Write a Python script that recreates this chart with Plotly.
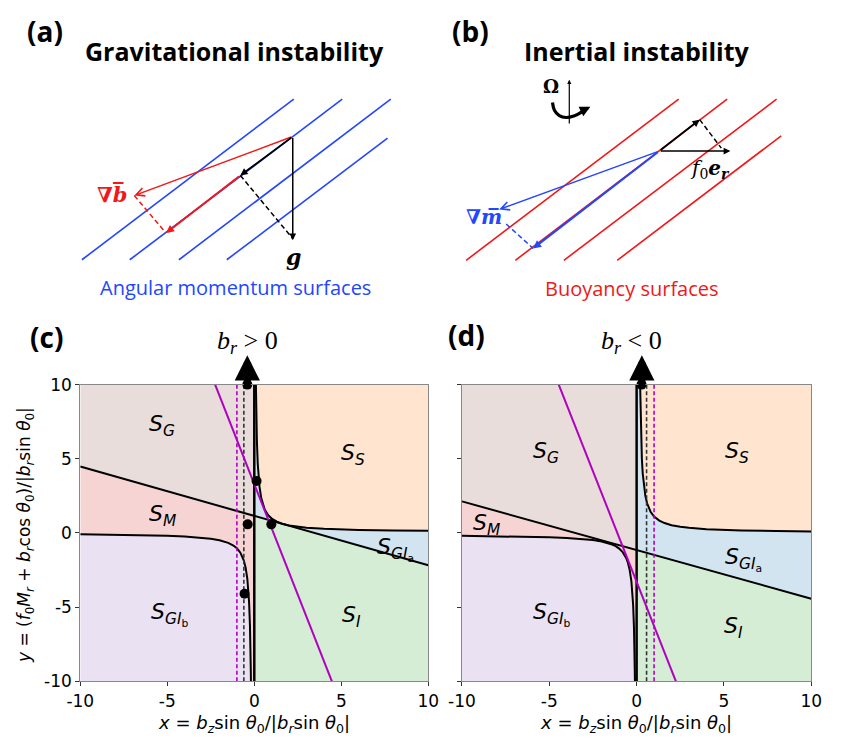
import plotly.graph_objects as go

# ---------------- data ----------------
# panel (c): b_r > 0
c_line_x = [-10, 0, 10]
c_line_y = [4.48, 1.15, -2.18]
c_hyp_up_x = [0.0925, 0.1, 0.12, 0.15, 0.2, 0.25, 0.3, 0.4, 0.5, 0.6, 0.8, 1.0, 1.3, 1.6, 2.0, 2.5, 3, 4, 5, 6, 8, 10]
c_hyp_up_y = [10.0, 9.25, 7.72, 6.18, 4.65, 3.73, 3.12, 2.35, 1.89, 1.58, 1.2, 0.97, 0.758, 0.625, 0.51, 0.418, 0.357, 0.28, 0.234, 0.203, 0.165, 0.142]
c_hyp_lo_x = [-10, -8, -6, -5, -4, -3, -2.5, -2, -1.5, -1.2, -1.0, -0.8, -0.6, -0.5, -0.4, -0.3, -0.25, -0.2, -0.193]
c_hyp_lo_y = [-0.094, -0.118, -0.158, -0.19, -0.238, -0.321, -0.388, -0.489, -0.664, -0.845, -1.033, -1.329, -1.86, -2.325, -3.1, -4.65, -6.2, -9.3, -10.0]
c_purple_x = [-2.25, 4.46]
c_purple_y = [10, -10]
c_dash_black = -0.6
c_dash_purple = -1.0
c_dots_x = [-0.4, 0.13, -0.38, 0.98, -0.56]
c_dots_y = [10, 3.5, 0.58, 0.58, -4.1]
c_arrow_x = -0.4

# panel (d): b_r < 0
d_line_x = [-10, 0, 10]
d_line_y = [2.13, -1.15, -4.43]
d_hyp_up_x = [0.2, 0.22, 0.25, 0.3, 0.35, 0.4, 0.5, 0.6, 0.8, 1.0, 1.3, 1.6, 2.0, 2.5, 3, 4, 5, 6, 8, 10]
d_hyp_up_y = [10, 8.33, 6.67, 5.0, 4.0, 3.33, 2.5, 2.0, 1.43, 1.11, 0.833, 0.667, 0.526, 0.417, 0.345, 0.256, 0.204, 0.169, 0.127, 0.101]
d_hyp_lo_x = [-10, -8, -6, -5, -4, -3, -2.5, -2, -1.7, -1.4, -1.2, -1.0, -0.8, -0.6, -0.5, -0.4, -0.3, -0.25, -0.2, -0.15, -0.12, -0.096]
d_hyp_lo_y = [-0.195, -0.219, -0.258, -0.29, -0.338, -0.417, -0.48, -0.575, -0.659, -0.779, -0.892, -1.05, -1.29, -1.68, -2.0, -2.475, -3.267, -3.9, -4.85, -6.43, -8.02, -10.0]
d_purple_x = [-4.46, 2.25]
d_purple_y = [10, -10]
d_dash_black = 0.57
d_dash_purple = 1.0
d_dots_x = [0.28]
d_dots_y = [10]
d_arrow_x = 0.3

tick_vals = [-10, -5, 0, 5, 10]
tick_text = ["-10", "-5", "0", "5", "10"]

region_names = ["S_G", "S_S", "S_M", "S_GIa", "S_GIb", "S_I"]
region_colors = {"S_G": "#e8dddb", "S_S": "#ffe5cf", "S_M": "#f7d4d4",
                 "S_GIa": "#d2e4f0", "S_GIb": "#eae1f2", "S_I": "#d5ecd5"}
region_text = {"S_G": "<i>S</i><sub><i>G</i></sub>", "S_S": "<i>S</i><sub><i>S</i></sub>",
               "S_M": "<i>S</i><sub><i>M</i></sub>", "S_GIa": "<i>S</i><sub><i>GI</i><sub>a</sub></sub>",
               "S_GIb": "<i>S</i><sub><i>GI</i><sub>b</sub></sub>", "S_I": "<i>S</i><sub><i>I</i></sub>"}
c_label_pos = {"S_G": (-5.3, 7.25), "S_S": (5.7, 5.3), "S_M": (-5.3, 1.15),
               "S_GIa": (8.1, -1.1), "S_GIb": (-4.9, -5.5), "S_I": (5.6, -5.6)}
d_label_pos = {"S_G": (-5.2, 5.4), "S_S": (5.75, 5.4), "S_M": (-8.6, 0.6),
               "S_GIa": (6.1, -1.8), "S_GIb": (-4.9, -5.5), "S_I": (5.55, -6.4)}

# schematic (pixel coordinates of the drawing panels a and b)
a_lines = [[(70, 256.7), (288.3, 91.7)], [(119.3, 256.7), (338.3, 91.7)],
           [(170, 256.7), (388.3, 91.7)], [(219.3, 256.7), (385, 131.7)]]
b_lines = [[(466, 257.3), (685, 91.7)], [(516.7, 257.3), (735, 91.7)],
           [(566.7, 257.3), (786, 91.7)], [(621.7, 257.3), (790.7, 129.3)]]

BLUE = "#2346ff"
RED = "#f01818"
PURPLE = "#b000c0"

fig = go.Figure()

def poly(xs, ys):
    return list(xs) + [xs[0]], list(ys) + [ys[0]]

def add_panel(n, line_x, line_y, up_x, up_y, lo_x, lo_y, purple_x, purple_y,
              dash_b, dash_p, dots_x, dots_y, arrow_x, label_pos):
    xa = "x" if n == 1 else "x2"
    ya = "y" if n == 1 else "y2"
    L0, Lm, Lr = line_y[0], line_y[1], line_y[2]
    regions = {
        "S_S": (up_x + [10], up_y + [10]),
        "S_GIa": ([0, 0] + up_x + [10], [Lm, 10] + up_y + [Lr]),
        "S_I": ([0, 10, 10, 0], [Lm, Lr, -10, -10]),
        "S_G": ([-10, 0, 0, -10], [10, 10, Lm, L0]),
        "S_M": ([-10, 0, 0] + lo_x[::-1], [L0, Lm, -10] + lo_y[::-1]),
        "S_GIb": ([-10] + lo_x, [-10] + lo_y),
    }
    for r in region_names:
        px, py = poly(*regions[r])
        fig.add_trace(go.Scatter(x=px, y=py, mode="lines", fill="toself",
                                 fillcolor=region_colors[r], line=dict(width=0),
                                 xaxis=xa, yaxis=ya, showlegend=False, hoverinfo="skip"))
    blk = dict(color="black", width=2)
    for xs, ys in [(line_x, line_y), (up_x, up_y), (lo_x, lo_y)]:
        fig.add_trace(go.Scatter(x=xs, y=ys, mode="lines", line=blk, xaxis=xa, yaxis=ya,
                                 showlegend=False))
    fig.add_trace(go.Scatter(x=[0, 0], y=[-10, 10], mode="lines", line=dict(color="black", width=2.5),
                             xaxis=xa, yaxis=ya, showlegend=False))
    fig.add_trace(go.Scatter(x=[dash_b, dash_b], y=[-10, 10], mode="lines",
                             line=dict(color="#333333", width=1.6, dash="4px,2.5px"),
                             xaxis=xa, yaxis=ya, showlegend=False))
    fig.add_trace(go.Scatter(x=[dash_p, dash_p], y=[-10, 10], mode="lines",
                             line=dict(color=PURPLE, width=1.6, dash="4px,2.5px"),
                             xaxis=xa, yaxis=ya, showlegend=False))
    fig.add_trace(go.Scatter(x=purple_x, y=purple_y, mode="lines", line=dict(color=PURPLE, width=2),
                             xaxis=xa, yaxis=ya, showlegend=False))
    fig.add_trace(go.Scatter(x=dots_x, y=dots_y, mode="markers",
                             marker=dict(color="black", size=10), cliponaxis=False,
                             xaxis=xa, yaxis=ya, showlegend=False))
    fig.add_annotation(x=arrow_x, y=11.97, ax=arrow_x, ay=9.8, xref=xa, yref=ya,
                       axref=xa, ayref=ya, text="", showarrow=True, arrowhead=2,
                       arrowwidth=7, arrowsize=0.72, arrowcolor="black")
    for r in region_names:
        lx, ly = label_pos[r]
        fig.add_annotation(x=lx, y=ly, xref=xa, yref=ya, text=region_text[r], showarrow=False,
                           font=dict(family="DejaVu Sans", size=22, color="black"))

add_panel(1, c_line_x, c_line_y, c_hyp_up_x, c_hyp_up_y, c_hyp_lo_x, c_hyp_lo_y,
          c_purple_x, c_purple_y, c_dash_black, c_dash_purple, c_dots_x, c_dots_y, c_arrow_x, c_label_pos)
add_panel(2, d_line_x, d_line_y, d_hyp_up_x, d_hyp_up_y, d_hyp_lo_x, d_hyp_lo_y,
          d_purple_x, d_purple_y, d_dash_black, d_dash_purple, d_dots_x, d_dots_y, d_arrow_x, d_label_pos)

# ---------------- schematic panels (a), (b) ----------------
def seg(p, q, color, width=1.6, dash=None):
    fig.add_trace(go.Scatter(x=[p[0], q[0]], y=[p[1], q[1]], mode="lines",
                             line=dict(color=color, width=width, dash=dash),
                             xaxis="x3", yaxis="y3", showlegend=False, hoverinfo="skip"))

def arrow(tail, head, color, width=1.5, head_style=2, size=0.9):
    fig.add_annotation(x=head[0], y=head[1], ax=tail[0], ay=tail[1], xref="x3", yref="y3",
                       axref="x3", ayref="y3", text="", showarrow=True, arrowhead=head_style,
                       arrowwidth=width, arrowsize=size, arrowcolor=color)

for p, q in a_lines:
    seg(p, q, BLUE)
for p, q in b_lines:
    seg(p, q, RED)

# (a)
Oa = (287.3, 130)
Pa = (233.3, 170)
arrow(Oa, (124, 190.7), RED, 1.5, 5, 1.1)
arrow(Oa, Pa, "black", 1.8, 2, 0.8)
arrow(Pa, (156.7, 229.3), RED, 2, 2, 0.8)
arrow(Oa, (287.3, 236.7), "black", 1.5, 2, 0.9)
seg(Pa, (287.3, 235), "black", 1.5, "5px,3px")
seg((124, 190.7), (156.7, 229.3), RED, 1.5, "5px,3px")

# (b)
Ob = (665, 145)
Pb = (706.7, 112.7)
arrow(Ob, (738.3, 145), "black", 1.5, 2, 0.9)
arrow(Ob, Pb, "black", 1.8, 2, 0.8)
seg(Pb, (729, 142), "black", 1.5, "5px,3px")
arrow(Ob, (500, 205), BLUE, 1.5, 5, 1.1)
arrow(Ob, (535, 245), BLUE, 2, 2, 0.8)
seg((507.3, 220), (535, 245), BLUE, 1.5, "5px,3px")

# rotation symbol
arrow((572.3, 118.3), (572.3, 71.7), "black", 1.2, 2, 0.7)
arc_x = [555, 557, 562, 569, 577, 584, 589]
arc_y = [95, 103, 108.5, 110.5, 109, 105.5, 101.5]
fig.add_trace(go.Scatter(x=arc_x, y=arc_y, mode="lines", line=dict(color="black", width=3.2, shape="spline"),
                          xaxis="x3", yaxis="y3", showlegend=False, hoverinfo="skip"))
arrow((586, 103.5), (594, 99.5), "black", 3, 2, 0.7)

def txt(x, y, s, size, color="black", family="Open Sans", angle=0):
    fig.add_annotation(x=x, y=y, xref="x3", yref="y3", text=s, showarrow=False, textangle=angle,
                       font=dict(family=family, size=size, color=color))

txt(32, 22, "<b>(a)</b>", 28)
txt(470, 22, "<b>(b)</b>", 28)
txt(33, 336, "<b>(c)</b>", 28)
txt(466, 334, "<b>(d)</b>", 28)
txt(227, 42, "<b>Gravitational instability</b>", 25)
txt(642, 42, "<b>Inertial instability</b>", 25)
txt(228, 285, "Angular momentum surfaces", 20, BLUE)
txt(637, 286, "Buoyancy surfaces", 20, RED)
txt(101, 190, "<b>∇<i>b̅</i></b>", 21, RED, "DejaVu Serif")
txt(484, 213, "<b>∇<i>m̅</i></b>", 20, BLUE, "DejaVu Serif")
txt(288, 254, "<b><i>g</i></b>", 22, "black", "DejaVu Serif")
txt(717, 163, "<i>f</i><sub>0</sub><b><i>e<sub>r</sub></i></b>", 20, "black", "DejaVu Serif")
txt(553, 79, "<b>Ω</b>", 18, "black", "DejaVu Serif")
txt(241, 341, "<i>b<sub>r</sub></i> > 0", 26, "black", "Liberation Serif")
txt(636, 341, "<i>b<sub>r</sub></i> < 0", 26, "black", "Liberation Serif")
xlab = "<i>x</i> = <i>b<sub>z</sub></i>sin <i>θ</i><sub>0</sub>/|<i>b<sub>r</sub></i>sin <i>θ</i><sub>0</sub>|"
txt(247, 734, xlab, 18, "black", "DejaVu Sans")
txt(641, 734, xlab, 18, "black", "DejaVu Sans")
ylab = "<i>y</i> = (<i>f</i><sub>0</sub><i>M<sub>r</sub></i> + <i>b<sub>r</sub></i>cos <i>θ</i><sub>0</sub>)/|<i>b<sub>r</sub></i>sin <i>θ</i><sub>0</sub>|"
txt(12, 540, ylab, 17, "black", "DejaVu Sans", -90)

# ---------------- layout ----------------
W, H = 841, 740
xd_c = [68.3 / W, 427 / W]
xd_d = [461.7 / W, 821.7 / W]
yd = [(H - 690) / H, (H - 385) / H]
axis_common = dict(range=[-10, 10], showgrid=False, zeroline=False, showline=True, mirror=True,
                   linecolor="#888888", linewidth=1, ticks="outside", ticklen=4, tickcolor="#333333",
                   tickvals=tick_vals, ticktext=tick_text,
                   tickfont=dict(family="DejaVu Sans", size=17, color="black"))
fig.update_layout(
    width=W, height=H, margin=dict(l=0, r=0, t=0, b=0),
    paper_bgcolor="white", plot_bgcolor="rgba(0,0,0,0)", showlegend=False,
    xaxis=dict(domain=xd_c, anchor="y", **axis_common),
    yaxis=dict(domain=yd, anchor="x", **axis_common),
    xaxis2=dict(domain=xd_d, anchor="y2", **axis_common),
    yaxis2=dict(domain=yd, anchor="x2", showticklabels=False, **axis_common),
    xaxis3=dict(domain=[0, 1], range=[0, W], visible=False, anchor="y3", fixedrange=True),
    yaxis3=dict(domain=[0, 1], range=[H, 0], visible=False, anchor="x3", fixedrange=True),
)
fig.write_html("out.html")
